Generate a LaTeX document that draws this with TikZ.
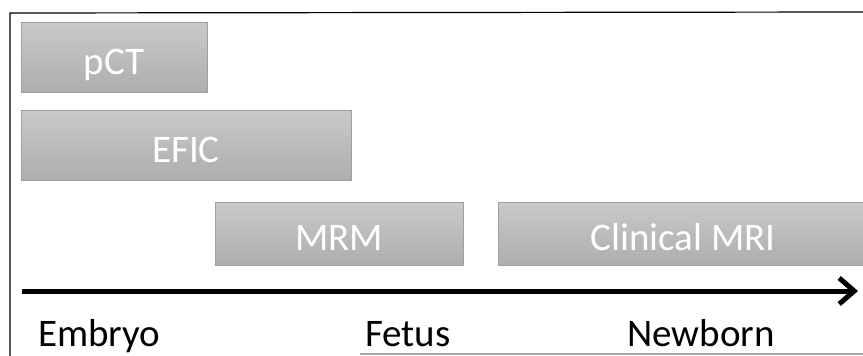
\documentclass[tikz,border=0pt]{standalone}
\usepackage{fontspec}
\setmainfont{Carlito}
\usetikzlibrary{arrows.meta}
\newcommand{\lowtxt}[1]{\raisebox{-17pt}[0pt][0pt]{#1}}
\begin{document}
\begin{tikzpicture}[x=1pt,y=-1pt,
  bar/.style={draw=gray!75, line width=0.8pt, top color=gray!42, bottom color=gray!64,
    inner sep=0pt, font=\fontsize{39}{40}\selectfont, text=white},
  stage/.style={font=\fontsize{39}{40}\selectfont, text=black, inner sep=0pt, anchor=base west}]
\useasboundingbox (0,0) rectangle (863,356);
% frame
\draw[line width=1.2pt] (10,356) -- (10,13) -- (863,12);
\draw[line width=1.2pt, gray!70] (360,354) -- (863,354);
% bars
\node[bar, minimum width=186pt, minimum height=70pt] (pct) at (114,57) {\lowtxt{pCT}};
\node[bar, minimum width=330pt, minimum height=70pt] (efic) at (186,145) {\lowtxt{EFIC}};
\node[bar, minimum width=248pt, minimum height=63pt] (mrm) at (339,233.5) {\lowtxt{MRM}};
\node[bar, minimum width=370pt, minimum height=63pt] (cmri) at (683,233.5) {\lowtxt{Clinical MRI}};
% time axis
\coordinate (tstart) at (22,291);
\coordinate (tend) at (858,291);
\draw[line width=5pt, -{Straight Barb[length=15pt, width=26pt, line width=5pt]}] (tstart) -- (tend);
% stage labels
\node[stage] (embryo) at (38,346) {Embryo};
\node[stage] (fetus) at (365,346) {Fetus};
\node[stage] (newborn) at (627,346) {Newborn};
\end{tikzpicture}
\end{document}
